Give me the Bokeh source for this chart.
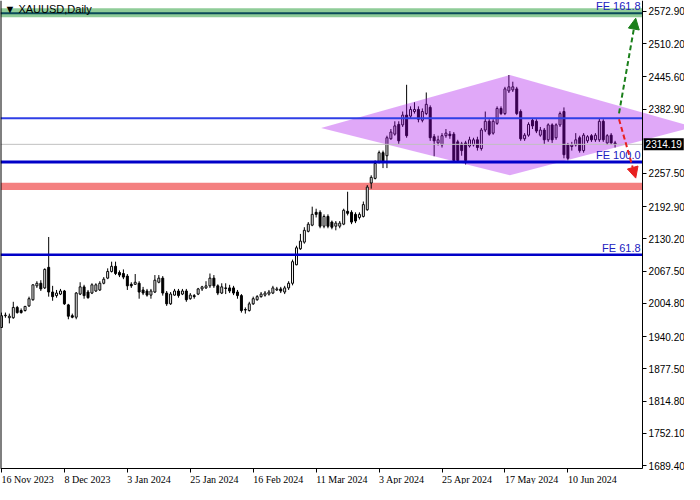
from bokeh.plotting import figure
from bokeh.models import (FixedTicker, PrintfTickFormatter, BoxAnnotation, Label, LinearAxis,
                          Arrow, NormalHead, Range1d, ColumnDataSource)
from bokeh.embed import file_html
from bokeh.resources import INLINE

# ---------------- data ----------------
date_labels = ["16 Nov 2023", "8 Dec 2023", "3 Jan 2024", "25 Jan 2024", "16 Feb 2024",
               "11 Mar 2024", "3 Apr 2024", "25 Apr 2024", "17 May 2024", "10 Jun 2024"]
date_index = [0, 16, 32, 48, 64, 80, 96, 112, 128, 144]

price_ticks = [1689.4, 1752.1, 1814.8, 1877.5, 1940.2, 2004.8, 2067.5, 2130.2,
               2192.9, 2257.5, 2382.9, 2445.6, 2510.2, 2572.9]

opens = [1958, 1981, 1977, 1977, 1997, 1991, 1991, 2000, 2012, 2039,
         2044, 2035, 2075, 2027, 2020, 2023, 2029, 2002, 1981, 1978,
         2023, 2037, 2027, 2025, 2029, 2031, 2044, 2054, 2067, 2077,
         2065, 2063, 2058, 2042, 2042, 2044, 2031, 2029, 2021, 2027,
         2046, 2054, 2025, 2004, 2021, 2029, 2023, 2029, 2014, 2020,
         2023, 2033, 2035, 2039, 2054, 2039, 2025, 2035, 2035, 2035,
         2027, 2020, 1993, 1991, 2004, 2012, 2018, 2021, 2023, 2025,
         2031, 2033, 2027, 2035, 2044, 2080, 2111, 2124, 2145, 2157,
         2182, 2182, 2155, 2174, 2163, 2155, 2155, 2159, 2184, 2182,
         2178, 2172, 2174, 2187, 2239, 2248, 2279, 2298, 2292, 2325,
         2334, 2353, 2352, 2371, 2369, 2378, 2382, 2361, 2374, 2386,
         2329, 2317, 2313, 2331, 2334, 2334, 2319, 2315, 2317, 2311,
         2313, 2323, 2306, 2342, 2359, 2336, 2355, 2384, 2374, 2418,
         2420, 2422, 2378, 2325, 2332, 2361, 2359, 2332, 2342, 2323,
         2352, 2327, 2352, 2378, 2313, 2310, 2313, 2327, 2302, 2321,
         2331, 2323, 2323, 2359, 2317, 2332, 2317]
closes = [1981, 1982, 1980, 1997, 1987, 1987, 1999, 2014, 2041, 2044,
          2033, 2071, 2027, 2018, 2025, 2029, 2004, 1980, 1978, 2025,
          2037, 2020, 2016, 2041, 2041, 2044, 2052, 2067, 2077, 2063,
          2060, 2056, 2039, 2039, 2046, 2027, 2025, 2021, 2029, 2050,
          2054, 2025, 2004, 2023, 2029, 2020, 2029, 2012, 2021, 2018,
          2033, 2037, 2039, 2054, 2039, 2025, 2037, 2034, 2029, 2025,
          2020, 1991, 1992, 2004, 2014, 2018, 2023, 2025, 2027, 2035,
          2033, 2029, 2035, 2044, 2086, 2113, 2126, 2147, 2159, 2178,
          2178, 2155, 2174, 2155, 2153, 2161, 2161, 2186, 2180, 2163,
          2165, 2178, 2197, 2231, 2250, 2277, 2298, 2279, 2327, 2338,
          2350, 2321, 2371, 2331, 2382, 2382, 2363, 2378, 2392, 2327,
          2321, 2323, 2331, 2336, 2331, 2283, 2283, 2302, 2283, 2323,
          2323, 2308, 2342, 2359, 2334, 2359, 2384, 2374, 2422, 2426,
          2426, 2374, 2325, 2332, 2353, 2350, 2340, 2342, 2323, 2352,
          2323, 2352, 2374, 2294, 2287, 2313, 2323, 2302, 2332, 2329,
          2323, 2332, 2359, 2323, 2331, 2317, 2314.19]
highs = [1987, 1987, 1985, 2008, 2000, 1995, 2000, 2018, 2042, 2048,
         2050, 2073, 2134, 2039, 2031, 2033, 2031, 2004, 1985, 2027,
         2046, 2041, 2031, 2044, 2044, 2048, 2056, 2073, 2086, 2086,
         2069, 2071, 2062, 2046, 2062, 2048, 2037, 2033, 2033, 2060,
         2060, 2058, 2029, 2027, 2033, 2033, 2033, 2033, 2025, 2023,
         2035, 2039, 2048, 2063, 2060, 2042, 2044, 2044, 2041, 2039,
         2031, 2023, 1997, 2008, 2018, 2021, 2027, 2029, 2031, 2039,
         2037, 2037, 2039, 2048, 2090, 2117, 2140, 2153, 2163, 2193,
         2189, 2186, 2178, 2178, 2166, 2165, 2165, 2189, 2222, 2186,
         2182, 2182, 2203, 2235, 2254, 2283, 2302, 2302, 2331, 2344,
         2359, 2359, 2378, 2430, 2388, 2396, 2388, 2384, 2415, 2390,
         2334, 2331, 2336, 2344, 2340, 2338, 2323, 2319, 2321, 2329,
         2327, 2329, 2346, 2378, 2363, 2363, 2388, 2388, 2426, 2449,
         2436, 2426, 2382, 2336, 2357, 2365, 2363, 2348, 2346, 2355,
         2355, 2355, 2378, 2386, 2317, 2319, 2336, 2331, 2336, 2332,
         2334, 2336, 2365, 2363, 2334, 2336, 2321]
lows = [1957, 1977, 1966, 1975, 1985, 1985, 1989, 1998, 2010, 2035,
        2029, 2033, 2018, 2010, 2016, 2021, 2002, 1974, 1976, 1974,
        2021, 2014, 2014, 2023, 2027, 2029, 2042, 2052, 2065, 2060,
        2056, 2052, 2031, 2035, 2041, 2014, 2021, 2018, 2014, 2025,
        2044, 2020, 2000, 2002, 2020, 2016, 2021, 2008, 2012, 2014,
        2021, 2029, 2033, 2035, 2035, 2021, 2023, 2023, 2025, 2021,
        2014, 1987, 1985, 1989, 2002, 2010, 2016, 2018, 2020, 2023,
        2029, 2025, 2023, 2031, 2040, 2079, 2109, 2121, 2143, 2155,
        2172, 2151, 2151, 2151, 2149, 2147, 2151, 2157, 2176, 2159,
        2161, 2168, 2172, 2185, 2228, 2246, 2277, 2268, 2268, 2323,
        2331, 2315, 2348, 2327, 2365, 2374, 2357, 2357, 2371, 2321,
        2291, 2312, 2308, 2327, 2325, 2279, 2279, 2292, 2275, 2308,
        2310, 2302, 2302, 2338, 2331, 2333, 2352, 2371, 2371, 2414,
        2416, 2371, 2321, 2321, 2329, 2344, 2336, 2329, 2315, 2319,
        2317, 2323, 2348, 2287, 2283, 2302, 2310, 2298, 2298, 2317,
        2319, 2319, 2319, 2319, 2313, 2313, 2308]

fe_levels = [2569.1, 2279.6, 2099.7]
fe_names = ["FE 161.8", "FE 100.0", "FE 61.8"]
resistance_level = 2364.9
current_price = 2314.19
green_zone = [2561.4, 2578.6]
red_zone = [2225.6, 2239.6]

diamond_x = [81.25, 129.25, 176.0, 129.25]
diamond_y = [2346.0, 2449.0, 2348.0, 2254.0]

up_arrow = [157.0, 2374.5, 161.25, 2559.5]
down_arrow = [157.0, 2363.0, 161.25, 2248.5]

# chart area (bars) and the price-scale strip to its right
X_START, X_AXIS, X_FULL = -0.25, 163.0, 173.65
Y_BOTTOM, Y_END, Y_FULL_BOTTOM = 1683.8, 2593.9, 1652.7

# ---------------- figure ----------------
FONT = "Liberation Sans"
FS = "10px"
p = figure(width=684, height=484, output_backend="svg", toolbar_location=None,
           x_range=Range1d(X_START, X_FULL), y_range=Range1d(Y_FULL_BOTTOM, Y_END),
           x_axis_location=None, y_axis_location=None,
           min_border_left=0, min_border_top=0, min_border_bottom=0, min_border_right=0)
p.grid.visible = False
p.outline_line_color = None
p.background_fill_color = "white"
p.border_fill_color = "white"

idx = list(range(len(opens)))
body_fill = ["white" if c >= o else "black" for o, c in zip(opens, closes)]
src = ColumnDataSource(dict(x=idx, o=opens, c=closes, h=highs, l=lows, fc=body_fill))
p.segment(x0="x", y0="h", x1="x", y1="l", source=src, line_color="black", line_width=1)
p.vbar(x="x", bottom="o", top="c", width=0.5, source=src, fill_color="fc",
       line_color="black", line_width=1)

# diamond over candles (semi-transparent)
p.patch(diamond_x, diamond_y, fill_color="#A500EB", fill_alpha=0.34, line_color=None)

# zones
p.add_layout(BoxAnnotation(left=X_START, right=X_AXIS, bottom=green_zone[0], top=green_zone[1],
                           fill_color="#8fcc98", fill_alpha=1.0, line_color=None, level="underlay"))
p.add_layout(BoxAnnotation(left=X_START, right=X_AXIS, bottom=red_zone[0], top=red_zone[1],
                           fill_color="#f48080", fill_alpha=1.0, line_color=None, level="underlay"))

# horizontal levels
lvl_y = [fe_levels[0], resistance_level, current_price, fe_levels[1], fe_levels[2]]
lvl_col = ["#0a4a5a", "#2f3fe6", "#c0c0c0", "#0000c8", "#0000c8"]
lvl_w = [2, 2, 1, 3, 2.5]
for yv, col, w in zip(lvl_y, lvl_col, lvl_w):
    p.segment(x0=[X_START], x1=[X_AXIS], y0=[yv], y1=[yv], line_color=col, line_width=w)

for lvl, name in zip(fe_levels, fe_names):
    p.add_layout(Label(x=X_AXIS, y=lvl, text=name, text_align="right", text_baseline="bottom",
                       x_offset=-2, y_offset=1, text_color="#2020c0", text_font=FONT,
                       text_font_size="11px"))

# arrows
p.add_layout(Arrow(x_start=up_arrow[0], y_start=up_arrow[1], x_end=up_arrow[2], y_end=up_arrow[3],
                   line_color="#1a7f1a", line_width=2, line_dash="5 3",
                   end=NormalHead(size=11, fill_color="#1a7f1a", line_color="#1a7f1a")))
p.add_layout(Arrow(x_start=down_arrow[0], y_start=down_arrow[1], x_end=down_arrow[2], y_end=down_arrow[3],
                   line_color="#e82020", line_width=2, line_dash="5 3",
                   end=NormalHead(size=11, fill_color="#e82020", line_color="#e82020")))

# title
p.add_layout(Label(x=X_START, y=Y_END, text="\u25bc XAUUSD,Daily", x_offset=4, y_offset=-2,
                   text_baseline="top", text_align="left", text_font=FONT,
                   text_font_size="11px", text_color="black"))

# price axis (right of the chart area)
yax = LinearAxis(fixed_location=X_AXIS, bounds=(Y_BOTTOM, Y_END))
yax.ticker = FixedTicker(ticks=price_ticks)
yax.formatter = PrintfTickFormatter(format="%.2f")
yax.major_tick_out = 4
yax.major_tick_in = 0
yax.minor_tick_out = 0
yax.minor_tick_in = 0
yax.major_label_standoff = 2
yax.major_label_text_font = FONT
yax.major_label_text_font_size = FS
yax.major_label_text_color = "black"
yax.axis_line_color = "black"
p.add_layout(yax, "right")

# left border
lax = LinearAxis(fixed_location=X_START, bounds=(Y_BOTTOM, Y_END))
lax.ticker = FixedTicker(ticks=[])
lax.major_label_text_color = None
lax.axis_line_color = "black"
lax.axis_line_width = 2
p.add_layout(lax, "left")

# time axis
xax = LinearAxis(fixed_location=Y_BOTTOM, bounds=(X_START, X_AXIS))
xax.ticker = FixedTicker(ticks=date_index)
xax.major_label_text_color = None
xax.major_tick_out = 4
xax.major_tick_in = 0
xax.minor_tick_out = 0
xax.minor_tick_in = 0
xax.axis_line_color = "black"
p.add_layout(xax, "below")

p.text(x=date_index, y=[Y_BOTTOM] * len(date_index), text=date_labels, text_align="left",
       text_baseline="top", x_offset=0, y_offset=5, text_font=FONT, text_font_size=FS,
       text_color="black")

# current price tag on the price axis
p.add_layout(Label(x=X_AXIS, y=current_price, text="2314.19", x_offset=1, text_baseline="middle",
                   text_align="left", text_color="white", text_font=FONT, text_font_size=FS,
                   background_fill_color="black", padding=2))

open("out.html", "w").write(file_html(p, INLINE))
